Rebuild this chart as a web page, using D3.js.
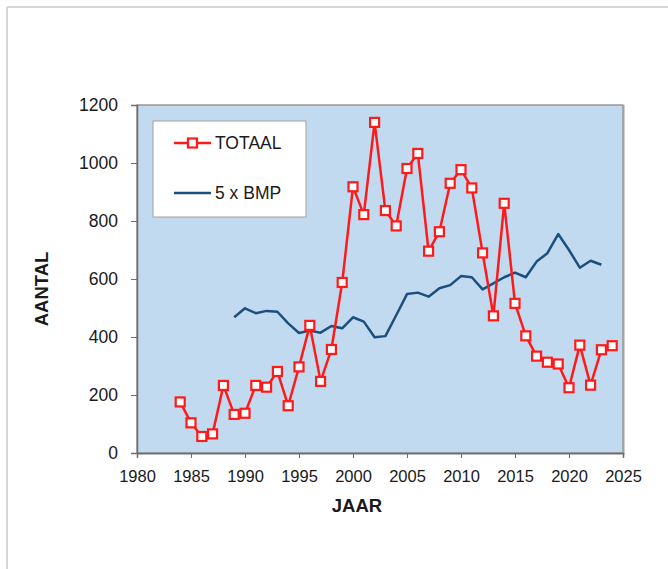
<!DOCTYPE html>
<html>
<head>
<meta charset="utf-8">
<script src="https://cdn.jsdelivr.net/npm/d3@7"></script>
<style>
  body { margin: 0; background: #fff; }
  svg { display: block; font-family: "Liberation Sans", Arial, sans-serif; }
</style>
</head>
<body>
<svg id="chart" width="668" height="569"></svg>
<script>
// data
var totaalYears = d3.range(1984, 2025);
var totaal = [176, 104, 57, 66, 233, 133, 137, 233, 227, 281, 163, 297, 440, 247, 357, 588,
  918, 822, 1140, 836, 783, 981, 1033, 696, 763, 930, 977, 914, 690, 473, 861, 516, 404,
  334, 313, 307, 225, 372, 234, 356, 370];

var bmpYears = d3.range(1989, 2024);
var bmp = [468, 499, 482, 490, 487, 447, 414, 422, 415, 438, 430, 468, 453, 399, 403, 475,
  548, 553, 539, 568, 579, 610, 606, 564, 585, 606, 622, 606, 660, 689, 755, 700, 639, 663, 649];

var xTicks = [1980, 1985, 1990, 1995, 2000, 2005, 2010, 2015, 2020, 2025];
var yTicks = [0, 200, 400, 600, 800, 1000, 1200];
var seriesNames = ["TOTAAL", "5 x BMP"];

var svg = d3.select("#chart");

// outer frame (only top and left edge visible)
svg.append("line").attr("x1", 7).attr("y1", 7).attr("x2", 668).attr("y2", 7)
  .attr("stroke", "#d6d6d6").attr("stroke-width", 2);
svg.append("line").attr("x1", 7).attr("y1", 7).attr("x2", 7).attr("y2", 569)
  .attr("stroke", "#d6d6d6").attr("stroke-width", 2);

var plotLeft = 137, plotTop = 105, plotRight = 623, plotBottom = 453;

var x = d3.scaleLinear().domain([1980, 2025]).range([plotLeft, plotRight]);
var y = d3.scaleLinear().domain([0, 1200]).range([plotBottom, plotTop]);

// plot area
svg.append("rect")
  .attr("x", plotLeft + 1).attr("y", plotTop + 1)
  .attr("width", plotRight - plotLeft).attr("height", plotBottom - plotTop)
  .attr("fill", "none").attr("stroke", "#cfcfcf").attr("stroke-width", 2);
svg.append("rect")
  .attr("x", plotLeft).attr("y", plotTop)
  .attr("width", plotRight - plotLeft).attr("height", plotBottom - plotTop)
  .attr("fill", "#c2daf0").attr("stroke", "#8c8c8c").attr("stroke-width", 1.3);

// axes
var xAxis = svg.append("g")
  .attr("transform", "translate(0," + plotBottom + ")")
  .call(d3.axisBottom(x).tickValues(xTicks).tickFormat(d3.format("d")).tickSize(5).tickPadding(8));
var yAxis = svg.append("g")
  .attr("transform", "translate(" + plotLeft + ",0)")
  .call(d3.axisLeft(y).tickValues(yTicks).tickFormat(d3.format("d")).tickSize(6).tickPadding(13));

[xAxis, yAxis].forEach(function (g) {
  g.select(".domain").attr("stroke", "#6e6e6e").attr("stroke-width", 1.5);
  g.selectAll(".tick line").attr("stroke", "#6e6e6e");
  g.selectAll("text")
    .attr("font-size", 16.5)
    .attr("font-family", "'Liberation Sans', Arial, sans-serif")
    .attr("fill", "#1a1a1a");
});
yAxis.selectAll("text").attr("font-size", 17.5);
xAxis.selectAll("text").attr("dy", "0.95em");

// axis titles
svg.append("text")
  .attr("x", 357).attr("y", 512)
  .attr("text-anchor", "middle")
  .attr("font-size", 18.5).attr("font-weight", "bold").attr("fill", "#1a1a1a")
  .text("JAAR");
svg.append("text")
  .attr("transform", "translate(48,289) rotate(-90)")
  .attr("text-anchor", "middle")
  .attr("font-size", 18.5).attr("font-weight", "bold").attr("fill", "#1a1a1a")
  .text("AANTAL");

// BMP line
var bmpLine = d3.line()
  .x(function (d, i) { return x(bmpYears[i]); })
  .y(function (d) { return y(d); });
svg.append("path")
  .datum(bmp)
  .attr("d", bmpLine)
  .attr("fill", "none")
  .attr("stroke", "#1b4f7f")
  .attr("stroke-width", 2.5)
  .attr("stroke-linejoin", "round");

// TOTAAL line with square markers
var totLine = d3.line()
  .x(function (d, i) { return x(totaalYears[i]); })
  .y(function (d) { return y(d); });
svg.append("path")
  .datum(totaal)
  .attr("d", totLine)
  .attr("fill", "none")
  .attr("stroke", "#ff1a1a")
  .attr("stroke-width", 2.5)
  .attr("stroke-linejoin", "round");

svg.append("g")
  .selectAll("rect")
  .data(totaal)
  .enter().append("rect")
  .attr("x", function (d, i) { return x(totaalYears[i]) - 4.5; })
  .attr("y", function (d) { return y(d) - 4.5; })
  .attr("width", 9).attr("height", 9)
  .attr("fill", "#fff")
  .attr("stroke", "#ff1a1a")
  .attr("stroke-width", 2.2);

// legend
var legend = svg.append("g");
legend.append("rect")
  .attr("x", 153).attr("y", 121).attr("width", 153).attr("height", 96)
  .attr("fill", "#fff").attr("stroke", "#a0a0a0").attr("stroke-width", 1);

legend.append("line")
  .attr("x1", 174).attr("x2", 211).attr("y1", 143).attr("y2", 143)
  .attr("stroke", "#ff1a1a").attr("stroke-width", 2.5);
legend.append("rect")
  .attr("x", 188).attr("y", 138.5).attr("width", 9).attr("height", 9)
  .attr("fill", "#fff").attr("stroke", "#ff1a1a").attr("stroke-width", 2.2);
legend.append("text")
  .attr("x", 215).attr("y", 149)
  .attr("font-size", 17.5).attr("fill", "#1a1a1a")
  .text(seriesNames[0]);

legend.append("line")
  .attr("x1", 174).attr("x2", 211).attr("y1", 193).attr("y2", 193)
  .attr("stroke", "#1b4f7f").attr("stroke-width", 2.5);
legend.append("text")
  .attr("x", 215).attr("y", 199)
  .attr("font-size", 17.5).attr("fill", "#1a1a1a")
  .text(seriesNames[1]);
</script>
</body>
</html>
